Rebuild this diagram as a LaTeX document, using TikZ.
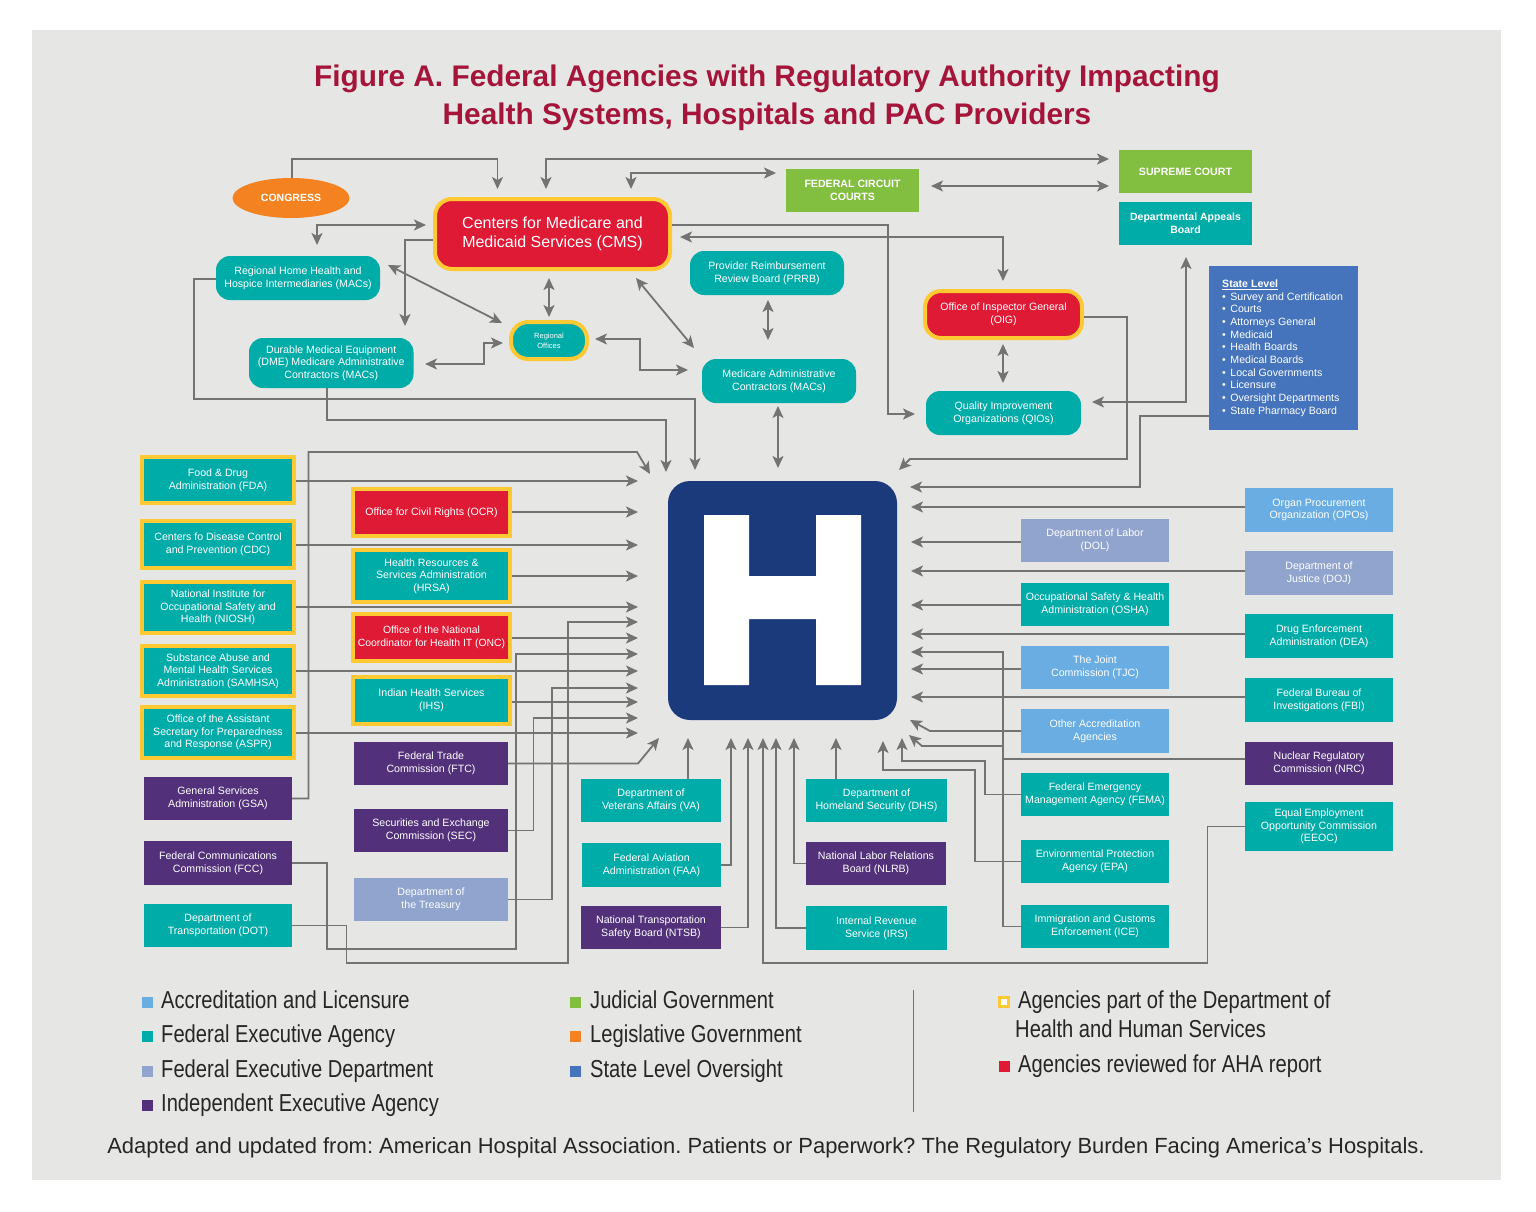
\documentclass[tikz,border=0pt]{standalone}
\usepackage{fontspec}
\setmainfont{Liberation Sans}
\newfontfamily\legendfont[FakeStretch=0.822]{Liberation Sans}
\newfontfamily\hfont[FakeStretch=1.11]{Liberation Sans}
\usetikzlibrary{arrows.meta,shapes.geometric}
\definecolor{pagegrey}{HTML}{E6E6E4}
\definecolor{tealc}{HTML}{00ACA8}
\definecolor{purplec}{HTML}{53317A}
\definecolor{deptc}{HTML}{90A4CE}
\definecolor{accc}{HTML}{69ADE2}
\definecolor{redc}{HTML}{DF1A35}
\definecolor{amber}{HTML}{FFC934}
\definecolor{greenc}{HTML}{82BE40}
\definecolor{orangec}{HTML}{F58220}
\definecolor{statec}{HTML}{4574BC}
\definecolor{navy}{HTML}{1B3A7C}
\definecolor{linec}{HTML}{737373}
\definecolor{titlec}{HTML}{A5153A}
\tikzset{
  x=1pt,y=-1pt,
  ag/.style={inner sep=0pt,outer sep=0pt,align=center,text=white,font=\fontsize{10.6}{12.6}\selectfont},
  teal box/.style={ag,fill=tealc},
  purple box/.style={ag,fill=purplec},
  dept box/.style={ag,fill=deptc},
  acc box/.style={ag,fill=accc},
  green box/.style={ag,fill=greenc,font=\fontsize{10.6}{12.6}\selectfont\bfseries},
  hhs box/.style={ag,fill=tealc,draw=amber,line width=4pt,outer sep=2pt},
  hhs red/.style={ag,fill=redc,draw=amber,line width=4pt,outer sep=2pt},
  arr/.style={draw=linec,line width=1.8pt,-{Stealth[length=12pt,width=11pt,inset=3pt]}},
  arrbi/.style={draw=linec,line width=1.8pt,{Stealth[length=12pt,width=11pt,inset=3pt]}-{Stealth[length=12pt,width=11pt,inset=3pt]}},
  legsq/.style={inner sep=0pt,minimum size=11pt},
  legtx/.style={anchor=base west,inner sep=0pt,font=\legendfont\fontsize{24.5}{24.5}\selectfont,text=black!85},
}
% plain box given by its corners
\newcommand{\agbox}[7]{\node[#1,minimum width={(#5-#3)*1pt},minimum height={(#6-#4)*1pt}] (#2) at ({(#3+#5)/2},{(#4+#6)/2}) {#7};}
% box with a 4px border, given by its outer corners
\newcommand{\agborder}[7]{\node[#1,minimum width={(#5-#3-4)*1pt},minimum height={(#6-#4-4)*1pt}] (#2) at ({(#3+#5)/2},{(#4+#6)/2}) {#7};}
\newcommand{\blt}{•\hspace{4.5pt}}
\frenchspacing
\begin{document}
\begin{tikzpicture}
\useasboundingbox (0,0) rectangle (1536,1212);
\fill[white] (0,0) rectangle (1536,1212);
\fill[pagegrey] (32,30) rectangle (1501,1180);

% title
\node[inner sep=0pt,align=center,text=titlec,font=\fontsize{29.8}{38}\selectfont\bfseries] (title) at (767,97.5) {Figure A. Federal Agencies with Regulatory Authority Impacting\\Health Systems, Hospitals and PAC Providers};

% top
\node[ellipse,fill=orangec,inner sep=0pt,outer sep=0pt,minimum width=117pt,minimum height=40pt,text=white,font=\fontsize{10.5}{12}\selectfont\bfseries] (congress) at (291,198) {CONGRESS};
\agborder{hhs red,rounded corners=17pt,font=\fontsize{16}{19}\selectfont}{cms}{433}{197}{672}{271}{Centers for Medicare and\\Medicaid Services (CMS)}
\agbox{green box}{circuit}{786}{169}{919}{212}{FEDERAL CIRCUIT\\COURTS}
\agbox{green box}{supreme}{1119}{150}{1252}{193}{SUPREME COURT}
\agbox{teal box,font=\fontsize{10.5}{12.6}\selectfont\bfseries}{dab}{1119}{202}{1252}{245}{Departmental Appeals\\Board}
\agbox{teal box,rounded corners=14pt}{rhhi}{216}{256}{380}{300}{Regional Home Health and\\Hospice Intermediaries (MACs)}
\agbox{teal box,rounded corners=14pt}{dme}{249}{338}{413.5}{388}{Durable Medical Equipment\\(DME) Medicare Administrative\\Contractors (MACs)}
\agborder{hhs box,rounded corners=17pt,font=\fontsize{7.5}{10}\selectfont}{regional}{509}{320}{589}{361}{Regional\\Offices}
\agbox{teal box,rounded corners=14pt}{prrb}{690}{251}{844}{295}{Provider Reimbursement\\Review Board (PRRB)}
\agbox{teal box,rounded corners=14pt}{mac}{702}{359}{856}{403}{Medicare Administrative\\Contractors (MACs)}
\agborder{hhs red,rounded corners=16pt}{oig}{923}{289}{1084}{340}{Office of Inspector General\\(OIG)}
\agbox{teal box,rounded corners=14pt}{qio}{926}{391}{1081}{435}{Quality Improvement\\Organizations (QIOs)}
\node[ag,fill=statec,minimum width=149pt,minimum height=164pt] (state) at (1283,348) {};
\node[inner sep=0pt,anchor=north west,align=left,text=white,font=\fontsize{10.6}{12.68}\selectfont] (statetext) at (1222,279.5) {\underline{\textbf{State Level}}\\\blt Survey and Certification\\\blt Courts\\\blt Attorneys General\\\blt Medicaid\\\blt Health Boards\\\blt Medical Boards\\\blt Local Governments\\\blt Licensure\\\blt Oversight Departments\\\blt State Pharmacy Board};

% hospital
\node[fill=navy,rounded corners=22pt,inner sep=0pt,outer sep=0pt,minimum width=229pt,minimum height=239pt] (hosp) at (782.5,600.5) {};
\fill[white] (704,515) rectangle (749,685) (816,515) rectangle (861,685) (749,576) rectangle (816,619);
\node[inner sep=0pt,text=white,font=\hfont\bfseries\fontsize{230}{230}\selectfont] (hletter) at (782.5,600) {H};

% left column
\agborder{hhs box}{fda}{140}{455}{296}{505}{Food \& Drug\\Administration (FDA)}
\agborder{hhs box}{cdc}{140}{519}{296}{570}{Centers fo Disease Control\\and Prevention (CDC)}
\agborder{hhs box}{niosh}{140}{580}{296}{635}{National Institute for\\Occupational Safety and\\Health (NIOSH)}
\agborder{hhs box}{samhsa}{140}{644}{296}{698}{Substance Abuse and\\Mental Health Services\\Administration (SAMHSA)}
\agborder{hhs box}{aspr}{140}{705}{296}{760}{Office of the Assistant\\Secretary for Preparedness\\and Response (ASPR)}
\agbox{purple box}{gsa}{144}{777}{292}{820}{General Services\\Administration (GSA)}
\agbox{purple box}{fcc}{144}{841}{292}{885}{Federal Communications\\Commission (FCC)}
\agbox{teal box}{dot}{144}{904}{292}{947}{Department of\\Transportation (DOT)}

% middle column
\agborder{hhs red}{ocr}{351}{487}{512}{538}{Office for Civil Rights (OCR)}
\agborder{hhs box}{hrsa}{351}{548}{512}{604}{Health Resources \&\\Services Administration\\(HRSA)}
\agborder{hhs red,font=\fontsize{10.4}{12.6}\selectfont}{onc}{351}{612}{512}{663}{Office of the National\\Coordinator for Health IT (ONC)}
\agborder{hhs box}{ihs}{351}{675}{512}{726}{Indian Health Services\\(IHS)}
\agbox{purple box}{ftc}{354}{742}{508}{785}{Federal Trade\\Commission (FTC)}
\agbox{purple box}{sec}{354}{809}{508}{852}{Securities and Exchange\\Commission (SEC)}
\agbox{dept box}{treasury}{354}{878}{508}{921}{Department of\\the Treasury}

% bottom columns
\agbox{teal box}{va}{581}{779}{721}{822}{Department of\\Veterans Affairs (VA)}
\agbox{teal box}{faa}{582}{843}{721}{887}{Federal Aviation\\Administration (FAA)}
\agbox{purple box}{ntsb}{581}{906}{721}{949}{National Transportation\\Safety Board (NTSB)}
\agbox{teal box}{dhs}{806}{779}{947}{822}{Department of\\Homeland Security (DHS)}
\agbox{purple box}{nlrb}{806}{842}{946}{885}{National Labor Relations\\Board (NLRB)}
\agbox{teal box}{irs}{806}{906}{947}{950}{Internal Revenue\\Service (IRS)}

% right inner column
\agbox{dept box}{dol}{1021}{519}{1169}{562}{Department of Labor\\(DOL)}
\agbox{teal box}{osha}{1021}{583}{1169}{626}{Occupational Safety \& Health\\Administration (OSHA)}
\agbox{acc box}{tjc}{1021}{646}{1169}{689}{The Joint\\Commission (TJC)}
\agbox{acc box}{other}{1021}{709}{1169}{753}{Other Accreditation\\Agencies}
\agbox{teal box}{fema}{1021}{773}{1169}{816}{Federal Emergency\\Management Agency (FEMA)}
\agbox{teal box}{epa}{1021}{840}{1169}{883}{Environmental Protection\\Agency (EPA)}
\agbox{teal box}{ice}{1021}{905}{1169}{948}{Immigration and Customs\\Enforcement (ICE)}

% right outer column
\agbox{acc box}{opo}{1245}{488}{1393}{532}{Organ Procurement\\Organization (OPOs)}
\agbox{dept box}{doj}{1245}{551}{1393}{595}{Department of\\Justice (DOJ)}
\agbox{teal box}{dea}{1245}{614}{1393}{658}{Drug Enforcement\\Administration (DEA)}
\agbox{teal box}{fbi}{1245}{678}{1393}{722}{Federal Bureau of\\Investigations (FBI)}
\agbox{purple box}{nrc}{1245}{742}{1393}{785}{Nuclear Regulatory\\Commission (NRC)}
\agbox{teal box}{eeoc}{1245}{802}{1393}{851}{Equal Employment\\Opportunity Commission\\(EEOC)}

% named arrow ends
\coordinate (tFDA) at (638,481);
\coordinate (tOCR) at (638,512);
\coordinate (tCDC) at (638,545);
\coordinate (tHRSA) at (638,576);
\coordinate (tNIOSH) at (638,607);
\coordinate (tDOT) at (638,622);
\coordinate (tONC) at (638,638);
\coordinate (tFCC) at (638,654);
\coordinate (tSAMHSA) at (638,671);
\coordinate (tTREAS) at (638,688);
\coordinate (tIHS) at (638,702);
\coordinate (tSEC) at (638,718);
\coordinate (tASPR) at (638,733);
\coordinate (tFTC) at (659,738);
\coordinate (tGSA) at (650,474);
\coordinate (tVA) at (688,738);
\coordinate (tFAA) at (731,738);
\coordinate (tNTSB) at (748,738);
\coordinate (tEEOC) at (763,738);
\coordinate (tIRS) at (776,738);
\coordinate (tNLRB) at (794,738);
\coordinate (tDHS) at (836,738);
\coordinate (tEPA) at (883,741);
\coordinate (tFEMA) at (902,738);
\coordinate (tOTHER) at (910,720);
\coordinate (tNRC) at (909,735);
\coordinate (tOPO) at (911,507);
\coordinate (tSTATE) at (910,487);
\coordinate (tOIG) at (899,470);
\coordinate (tDOL) at (911,542);
\coordinate (tDOJ) at (911,571);
\coordinate (tOSHA) at (911,605);
\coordinate (tDEA) at (911,634);
\coordinate (tICE) at (911,652);
\coordinate (tTJC) at (911,669);
\coordinate (tFBI) at (911,697);
\coordinate (tRHHI) at (695,470);
\coordinate (tDME) at (666,472);
\coordinate (tMAC) at (778,468);

% into the hospital: left
\draw[arr] (fda.east |- tFDA) -- (tFDA);
\draw[arr] (ocr.east |- tOCR) -- (tOCR);
\draw[arr] (cdc.east |- tCDC) -- (tCDC);
\draw[arr] (hrsa.east |- tHRSA) -- (tHRSA);
\draw[arr] (niosh.east |- tNIOSH) -- (tNIOSH);
\draw[arr] (onc.east |- tONC) -- (tONC);
\draw[arr] (samhsa.east |- tSAMHSA) -- (tSAMHSA);
\draw[arr] (ihs.east |- tIHS) -- (tIHS);
\draw[arr] (aspr.east |- tASPR) -- (tASPR);
\draw[arr] (ftc.east) -- (638,763.5) -- (tFTC);
\draw[arr] (gsa.east) -- (308.5,798.5) -- (308.5,452) -- (637,452) -- (tGSA);
\draw[arr] (fcc.east) -- (327,863) -- (327,949) -- (516,949) -- (516,654) -- (tFCC);
\draw[arr] (dot.east) -- (346.5,925.5) -- (346.5,963) -- (568,963) -- (568,622) -- (tDOT);
\draw[arr] (treasury.east) -- (552,899.5) -- (552,688) -- (tTREAS);
\draw[arr] (sec.east) -- (533.5,830.5) -- (533.5,718) -- (tSEC);

% into the hospital: bottom
\draw[arr] (va.north -| tVA) -- (tVA);
\draw[arr] (dhs.north -| tDHS) -- (tDHS);
\draw[arr] (faa.east) -| (tFAA);
\draw[arr] (ntsb.east) -| (tNTSB);
\draw[arr] (irs.west) -| (tIRS);
\draw[arr] (nlrb.west) -| (tNLRB);
\draw[arr] (eeoc.west) -- (1207.5,826.5) -- (1207.5,963) -- (763,963) -- (tEEOC);
\draw[arr] (epa.west) -- (975,861.5) -- (975,770) -- (883,770) -- (tEPA);
\draw[arr] (fema.west) -- (985,794.5) -- (985,761) -- (902,761) -- (tFEMA);

% into the hospital: right
\draw[arr] (opo.west |- tOPO) -- (tOPO);
\draw[arr] (dol.west |- tDOL) -- (tDOL);
\draw[arr] (doj.west |- tDOJ) -- (tDOJ);
\draw[arr] (osha.west |- tOSHA) -- (tOSHA);
\draw[arr] (dea.west |- tDEA) -- (tDEA);
\draw[arr] (tjc.west |- tTJC) -- (tTJC);
\draw[arr] (fbi.west |- tFBI) -- (tFBI);
\draw[arr] (ice.west) -- (1003,926.5) -- (1003,652) -- (tICE);
\draw[arr] (other.west) -- (930,731) -- (tOTHER);
\draw[arr] (nrc.west |- 0,759) -- (1003,759) -- (1003,746) -- (922,746) -- (tNRC);
\draw[arr] (state.west |- 0,416) -- (1140,416) -- (1140,487) -- (tSTATE);
\draw[arr] (oig.east |- 0,317) -- (1127,317) -- (1127,459) -- (910,459) -- (tOIG);

% top part
\draw[arr] (congress.north -| 292,0) -- (292,159) -- (497.5,159) -- (497.5,189);
\coordinate (cmsTopA) at (546,189);
\coordinate (supTop) at (1109,159);
\draw[arrbi] (cmsTopA) -- (546,159) -- (supTop);
\coordinate (cmsTopB) at (631,189);
\coordinate (circL) at (776,173);
\draw[arrbi] (cmsTopB) -- (631,173) -- (circL);
\coordinate (circR) at (931,186);
\coordinate (supL) at (1109,186);
\draw[arrbi] (circR) -- (supL);
\coordinate (cmsL) at (426,225);
\coordinate (rhhiT) at (317,245);
\draw[arrbi] (cmsL) -- (317,225) -- (rhhiT);
\coordinate (dmeT) at (405,326);
\draw[arr] (cms.west |- 0,240) -- (405,240) -- (dmeT);
\coordinate (rhhiR) at (388,265);
\coordinate (regNW) at (502,323);
\draw[arrbi] (rhhiR) -- (regNW);
\coordinate (cmsB) at (549,278);
\coordinate (regT) at (549,317);
\draw[arrbi] (cmsB) -- (regT);
\coordinate (dmeR) at (425,364);
\coordinate (regL) at (503,343);
\draw[arrbi] (dmeR) -- (484,364) -- (484,343) -- (regL);
\coordinate (regR) at (595,339);
\coordinate (macL) at (688,370);
\draw[arrbi] (regR) -- (640,339) -- (640,370) -- (macL);
\coordinate (cmsSE) at (636,278);
\coordinate (macNW) at (694,348);
\draw[arrbi] (cmsSE) -- (macNW);
\coordinate (prrbB) at (768,300);
\coordinate (macT) at (768,340);
\draw[arrbi] (prrbB) -- (macT);
\coordinate (macB) at (778,406);
\draw[arrbi] (macB) -- (tMAC);
\draw[arr] (rhhi.west |- 0,279) -- (194,279) -- (194,399) -- (695,399) -- (tRHHI);
\draw[arr] (dme.south -| 327,0) -- (327,420) -- (666,420) -- (tDME);
\coordinate (qioL) at (915,414);
\draw[arr] (cms.east |- 0,225) -- (888,225) -- (888,414) -- (qioL);
\coordinate (cmsR) at (680,237);
\coordinate (oigT) at (1003,281);
\draw[arrbi] (cmsR) -- (1003,237) -- (oigT);
\coordinate (oigB) at (1003,344);
\coordinate (qioT) at (1003,383);
\draw[arrbi] (oigB) -- (qioT);
\coordinate (qioR) at (1092,402);
\coordinate (dabB) at (1186,257);
\draw[arrbi] (qioR) -- (1186,402) -- (dabB);

% legend
\node[legsq,fill=accc] (k1) at (147.5,1002) {};
\node[legtx] (l1) at (161,1008) {Accreditation and Licensure};
\node[legsq,fill=tealc] (k2) at (147.5,1036) {};
\node[legtx] (l2) at (161,1042) {Federal Executive Agency};
\node[legsq,fill=deptc] (k3) at (147.5,1071) {};
\node[legtx] (l3) at (161,1077) {Federal Executive Department};
\node[legsq,fill=purplec] (k4) at (147.5,1105) {};
\node[legtx] (l4) at (161,1111) {Independent Executive Agency};
\node[legsq,fill=greenc] (k5) at (575.5,1002) {};
\node[legtx] (l5) at (590,1008) {Judicial Government};
\node[legsq,fill=orangec] (k6) at (575.5,1036) {};
\node[legtx] (l6) at (590,1042) {Legislative Government};
\node[legsq,fill=statec] (k7) at (575.5,1071) {};
\node[legtx] (l7) at (590,1077) {State Level Oversight};
\draw[linec,line width=0.8pt] (913,990) -- (913,1112);
\node[legsq,minimum size=9pt,draw=amber,line width=2.5pt,fill=white] (k8) at (1004,1002) {};
\node[legtx] (l8) at (1018,1008) {Agencies part of the Department of};
\node[legtx] (l9) at (1015,1037) {Health and Human Services};
\node[legsq,fill=redc] (k9) at (1004,1066) {};
\node[legtx] (l10) at (1018,1072) {Agencies reviewed for AHA report};

% source line
\node[inner sep=0pt,text=black!85,font=\fontsize{21.93}{24}\selectfont] (source) at (766,1148) {Adapted and updated from: American Hospital Association. Patients or Paperwork? The Regulatory Burden Facing America’s Hospitals.};
\end{tikzpicture}
\end{document}
